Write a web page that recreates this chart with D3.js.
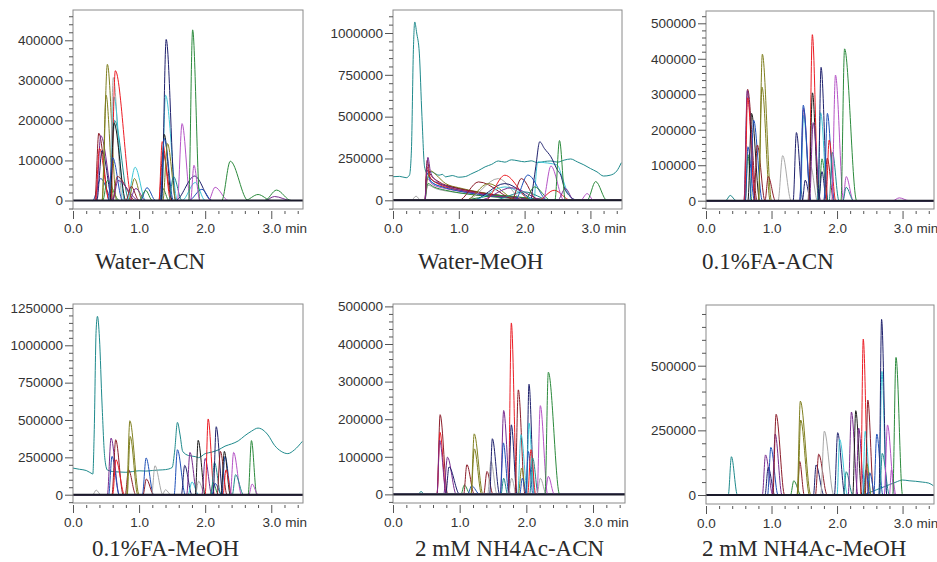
<!DOCTYPE html>
<html><head><meta charset="utf-8">
<script src="https://cdn.jsdelivr.net/npm/d3@7"></script>
<style>
html,body{margin:0;padding:0;background:#fff;}
svg{display:block;}
</style></head>
<body>
<svg id="chart" width="937" height="562"></svg>
<script>
// ---------------- DATA ----------------
const TITLES = ["Water-ACN","Water-MeOH","0.1%FA-ACN","0.1%FA-MeOH","2 mM NH4Ac-ACN","2 mM NH4Ac-MeOH"];
const X_MAJOR = [0,1,2,3];
const X_LABELS = ["0.0","1.0","2.0","3.0"];
const Y_MAJOR_1 = [0,100000,200000,300000,400000];
const Y_MAJOR_2 = [0,250000,500000,750000,1000000];
const Y_MAJOR_3 = [0,100000,200000,300000,400000,500000];
const Y_MAJOR_4 = [0,250000,500000,750000,1000000,1250000];
const Y_MAJOR_5 = [0,100000,200000,300000,400000,500000];
const Y_MAJOR_6 = [0,250000,500000];

const COLORS = {te:'#1f8a8c', gr:'#2b8a3c', rd:'#ec1c24', nv:'#1e206c', ol:'#7f7f1f', mr:'#8c1d2a',
  pu:'#772b8e', vi:'#b553c6', cy:'#3cc6d6', bl:'#1e50b8', gy:'#a8a8a8', bk:'#1c1c1c'};

// peaks: [colour, start, apex, end, height]
const PEAKS_1 = [
 ['bl',0.30,0.42,0.60,55000],['mr',0.33,0.39,0.55,168000],['pu',0.35,0.42,0.62,162000],
 ['rd',0.34,0.40,0.55,130000],['nv',0.36,0.44,0.60,125000],['gr',0.45,0.52,0.70,50000],
 ['ol',0.44,0.52,0.66,340000],['ol',0.44,0.50,0.62,263000],['gy',0.55,0.61,0.75,307000],
 ['te',0.56,0.63,0.85,200000],['cy',0.56,0.62,0.78,258000],['rd',0.57,0.64,0.90,324000],
 ['bk',0.56,0.62,0.80,194000],['bl',0.53,0.60,0.75,107000],['mr',0.60,0.67,0.95,60000],
 ['pu',0.60,0.68,1.00,50000],['cy',0.82,0.94,1.10,83000],['ol',0.84,0.93,1.05,55000],
 ['mr',0.80,0.88,1.00,35000],['pu',0.85,0.95,1.10,30000],['bl',1.02,1.12,1.25,32000],
 ['gr',1.00,1.10,1.20,25000],['gr',1.30,1.36,1.45,30000],['mr',1.30,1.36,1.50,120000],
 ['rd',1.30,1.35,1.48,147000],['cy',1.34,1.40,1.58,263000],['nv',1.34,1.41,1.55,402000],
 ['bk',1.33,1.38,1.50,165000],['bl',1.32,1.38,1.52,155000],['ol',1.36,1.43,1.56,142000],
 ['te',1.45,1.52,1.65,60000],['vi',1.58,1.65,1.78,192000],['nv',1.55,1.84,2.10,61000],
 ['cy',1.65,1.85,2.00,45000],['bl',1.75,1.95,2.10,28000],['gr',1.75,1.81,1.92,426000],
 ['vi',1.78,1.83,1.92,88000],['vi',2.05,2.15,2.35,33000],['gr',2.25,2.38,2.65,98000],
 ['gr',2.60,2.80,3.00,15000],['pu',2.90,3.05,3.30,10000],['gr',2.90,3.08,3.30,26000]
];
const CURVES_1 = [];

const PEAKS_2 = [
 ['gy',0.28,0.35,0.42,25000],['gr',1.00,1.60,2.40,30000],['mr',1.00,1.30,1.90,110000],
 ['gy',1.10,1.60,2.00,130000],['ol',1.10,1.45,1.90,100000],['nv',1.20,1.70,2.20,100000],
 ['cy',1.20,1.70,2.20,80000],['rd',1.40,1.70,2.10,150000],['pu',1.30,1.80,2.30,75000],
 ['te',1.50,2.00,2.40,50000],['mr',1.80,1.95,2.20,130000],['bl',1.85,2.05,2.35,151000],
 ['gr',2.00,2.15,2.40,80000],['rd',2.20,2.45,2.70,60000],['vi',2.28,2.40,2.60,205000],
 ['pu',2.50,2.62,2.75,70000],['gr',2.46,2.53,2.62,357000],['vi',2.85,2.95,3.05,40000],
 ['gr',2.95,3.08,3.25,112000]
];
const CURVES_2 = [
 ['te',[[0,141000],[0.1,143000],[0.2,135000],[0.25,150000],[0.28,300000],[0.31,900000],[0.33,1066000],
   [0.36,1000000],[0.40,880000],[0.44,500000],[0.48,200000],[0.52,160000],[0.56,172000],[0.6,168000],
   [0.7,150000],[0.75,155000],[0.8,140000],[0.9,148000],[1.0,138000],[1.1,142000],[1.2,160000],
   [1.3,178000],[1.4,200000],[1.5,215000],[1.6,235000],[1.7,228000],[1.8,242000],[1.9,236000],
   [2.0,230000],[2.1,236000],[2.2,225000],[2.3,232000],[2.4,235000],[2.5,228000],[2.6,240000],
   [2.7,247000],[2.8,230000],[2.9,212000],[3.0,190000],[3.1,170000],[3.2,145000],[3.3,150000],
   [3.4,175000],[3.47,225000]]],
 ['gy',[[0.49,0],[0.53,90000],[0.65,70000],[0.9,50000],[1.2,35000],[1.6,18000],[2.2,4000],[2.5,0]]],
 ['gr',[[0.49,0],[0.53,100000],[0.62,80000],[0.8,60000],[1.0,45000],[1.4,25000],[2.0,8000],[2.5,0]]],
 ['vi',[[0.49,0],[0.52,130000],[0.6,95000],[0.8,70000],[1.1,50000],[1.5,28000],[2.1,8000],[2.5,0]]],
 ['cy',[[0.49,0],[0.52,140000],[0.6,105000],[0.8,75000],[1.0,60000],[1.4,35000],[2.0,12000],[2.5,0]]],
 ['bl',[[0.49,0],[0.52,160000],[0.58,110000],[0.75,80000],[1.0,55000],[1.4,30000],[2.0,10000],[2.5,0]]],
 ['nv',[[0.49,0],[0.52,180000],[0.57,130000],[0.7,100000],[0.9,78000],[1.2,55000],[1.6,30000],[2.2,8000],[2.6,0]]],
 ['rd',[[0.49,0],[0.52,200000],[0.56,140000],[0.7,95000],[0.9,70000],[1.2,50000],[1.6,25000],[2.2,5000],[2.5,0]]],
 ['ol',[[0.49,0],[0.52,120000],[0.58,175000],[0.66,150000],[0.8,100000],[1.0,75000],[1.3,50000],[1.7,25000],[2.3,5000],[2.6,0]]],
 ['mr',[[0.49,0],[0.52,240000],[0.56,160000],[0.7,110000],[0.9,80000],[1.1,62000],[1.5,35000],[2.0,12000],[2.5,0]]],
 ['pu',[[0.49,0],[0.51,150000],[0.53,257000],[0.57,170000],[0.65,120000],[0.8,85000],[1.0,62000],[1.3,40000],[1.7,20000],[2.2,6000],[2.6,0]]],
 ['cy',[[2.15,0],[2.2,230000],[2.3,225000],[2.4,220000],[2.5,210000],[2.56,150000],[2.65,50000],[2.75,0]]],
 ['nv',[[2.1,0],[2.17,200000],[2.23,350000],[2.3,310000],[2.4,260000],[2.5,180000],[2.55,150000],[2.6,80000],[2.7,20000],[2.8,0]]]
];

const PEAKS_3 = [
 ['te',0.30,0.37,0.46,15000],['gr',0.60,0.64,0.70,130000],['mr',0.58,0.635,0.78,314000],
 ['pu',0.58,0.63,0.76,310000],['rd',0.59,0.635,0.75,290000],['bl',0.60,0.64,0.74,152000],
 ['bk',0.64,0.696,0.82,246000],['bl',0.67,0.727,0.86,227000],['mr',0.73,0.783,0.90,157000],
 ['ol',0.80,0.86,1.00,413000],['ol',0.80,0.855,0.98,320000],['mr',0.90,0.95,1.06,68000],
 ['gy',1.10,1.17,1.30,127000],['nv',1.33,1.38,1.48,192000],['cy',1.44,1.49,1.60,240000],
 ['pu',1.43,1.49,1.60,260000],['bl',1.43,1.485,1.60,269000],['nv',1.47,1.515,1.60,58000],
 ['gy',1.55,1.60,1.70,95000],['rd',1.57,1.623,1.72,468000],['bk',1.57,1.625,1.72,304000],
 ['pu',1.58,1.635,1.75,220000],['cy',1.70,1.75,1.86,248000],['nv',1.71,1.756,1.86,376000],
 ['gr',1.72,1.77,1.86,118000],['nv',1.72,1.77,1.84,82000],['mr',1.80,1.85,1.95,120000],
 ['bl',1.80,1.853,1.96,246000],['rd',1.83,1.88,1.98,171000],['te',1.88,1.93,2.03,136000],
 ['vi',1.92,1.976,2.10,354000],['gr',2.06,2.115,2.30,428000],['vi',2.09,2.14,2.25,68000],
 ['te',2.09,2.14,2.25,38000],['vi',2.85,2.95,3.10,8000]
];
const CURVES_3 = [];

const PEAKS_4 = [
 ['gy',0.30,0.35,0.42,31000],['pu',0.52,0.576,0.70,379000],['bl',0.54,0.59,0.70,257000],
 ['mr',0.59,0.646,0.76,368000],['rd',0.60,0.65,0.78,234000],['mr',0.79,0.84,0.95,167000],
 ['ol',0.81,0.86,1.00,495000],['ol',0.82,0.865,0.98,390000],['bl',1.05,1.106,1.22,246000],
 ['mr',1.06,1.11,1.22,105000],['gy',1.19,1.24,1.36,194000],['gy',1.35,1.40,1.48,33000],
 ['bl',1.53,1.58,1.70,301000],['nv',1.64,1.69,1.80,196000],['pu',1.72,1.77,1.88,283000],
 ['cy',1.74,1.80,1.90,85000],['gy',1.85,1.90,2.00,90000],['bk',1.85,1.894,2.00,364000],
 ['pu',1.95,2.00,2.10,243000],['rd',2.00,2.045,2.14,507000],['gr',2.08,2.12,2.20,80000],
 ['bl',2.10,2.15,2.25,75000],['te',2.09,2.14,2.24,216000],['nv',2.12,2.167,2.27,455000],
 ['mr',2.18,2.23,2.33,290000],['bl',2.25,2.30,2.40,257000],['bk',2.24,2.29,2.38,290000],
 ['rd',2.27,2.315,2.40,167000],['vi',2.38,2.43,2.55,283000],['te',2.41,2.46,2.58,134000],
 ['gr',2.65,2.70,2.78,362000],['vi',2.66,2.71,2.80,71000]
];
const CURVES_4 = [
 ['te',[[0,178000],[0.1,170000],[0.2,162000],[0.29,140000],[0.3,138000],[0.32,400000],[0.35,1100000],
   [0.37,1194000],[0.4,1050000],[0.44,600000],[0.48,250000],[0.52,165000],[0.6,155000],[0.7,152000],
   [0.8,150000],[0.9,155000],[1.0,160000],[1.1,158000],[1.2,162000],[1.3,165000],[1.4,168000],
   [1.5,182000],[1.54,300000],[1.58,484000],[1.62,400000],[1.66,290000],[1.75,262000],[1.85,255000],
   [1.9,248000],[2.0,275000],[2.1,285000],[2.2,300000],[2.3,325000],[2.4,340000],[2.5,360000],
   [2.6,395000],[2.7,425000],[2.8,446000],[2.85,440000],[2.95,400000],[3.05,330000],[3.15,290000],
   [3.25,275000],[3.35,300000],[3.47,357000]]]
];

const PEAKS_5 = [
 ['te',0.38,0.42,0.47,8000],['mr',0.66,0.707,0.82,212000],['rd',0.66,0.705,0.80,165000],
 ['pu',0.66,0.70,0.80,144000],['pu',0.76,0.817,0.95,99000],['nv',0.79,0.84,1.00,73000],
 ['gr',1.02,1.07,1.16,25000],['mr',1.06,1.108,1.22,79000],['bl',1.12,1.18,1.30,23000],
 ['ol',1.17,1.218,1.35,161000],['ol',1.17,1.22,1.33,121000],['mr',1.36,1.41,1.50,61000],
 ['gy',1.42,1.47,1.56,88000],['nv',1.45,1.49,1.60,148000],['pu',1.61,1.66,1.76,223000],
 ['bl',1.61,1.655,1.74,137000],['te',1.62,1.66,1.72,43000],['rd',1.73,1.775,1.86,456000],
 ['nv',1.73,1.775,1.86,185000],['gy',1.73,1.78,1.85,43000],['mr',1.83,1.88,1.98,278000],
 ['cy',1.87,1.92,2.02,159000],['ol',1.88,1.93,2.00,70000],['bl',1.90,1.94,2.00,43000],
 ['nv',2.00,2.04,2.12,293000],['cy',2.00,2.04,2.12,190000],['bl',1.99,2.03,2.10,114000],
 ['rd',2.02,2.07,2.14,119000],['te',2.05,2.095,2.18,97000],['vi',2.16,2.21,2.32,236000],
 ['gy',2.16,2.21,2.30,43000],['vi',2.28,2.33,2.42,48000],['gr',2.28,2.33,2.50,325000]
];
const CURVES_5 = [];

const PEAKS_6 = [
 ['te',0.34,0.388,0.48,148000],['pu',0.86,0.908,1.02,155000],['nv',0.90,0.95,1.05,107000],
 ['bl',0.94,0.99,1.10,184000],['pu',1.01,1.056,1.16,236000],['mr',1.02,1.07,1.20,312000],
 ['gr',1.29,1.34,1.45,55000],['mr',1.39,1.43,1.50,130000],['ol',1.39,1.44,1.60,363000],
 ['ol',1.40,1.445,1.58,290000],['nv',1.64,1.68,1.80,116000],['mr',1.67,1.72,1.85,158000],
 ['gy',1.75,1.806,1.95,247000],['nv',1.96,2.01,2.12,241000],['cy',2.00,2.04,2.16,215000],
 ['te',2.10,2.14,2.24,90000],['pu',2.17,2.22,2.32,321000],['bk',2.24,2.286,2.38,326000],
 ['pu',2.29,2.33,2.42,259000],['rd',2.36,2.40,2.48,603000],['cy',2.39,2.43,2.52,246000],
 ['bl',2.40,2.44,2.50,97000],['ol',2.41,2.455,2.52,122000],['mr',2.43,2.47,2.56,367000],
 ['bl',2.46,2.50,2.58,86000],['bl',2.56,2.607,2.70,236000],['te',2.65,2.69,2.80,161000],
 ['cy',2.64,2.685,2.76,478000],['nv',2.64,2.68,2.76,679000],['vi',2.72,2.77,2.88,271000],
 ['vi',2.80,2.83,2.90,97000],['gr',2.85,2.90,3.00,532000]
];
const CURVES_6 = [
 ['te',[[2.4,0],[2.6,20000],[2.8,40000],[2.9,50000],[3.0,58000],[3.1,55000],[3.2,53000],[3.3,50000],[3.4,46000],[3.47,36000]]]
];

// ---------------- LAYOUT ----------------
const XMAX = 3.48;
const panels = [
 {L:73, R:303, T:10, B:209, yDom:[-21200,475600], major:Y_MAJOR_1, minor:20000, peaks:PEAKS_1, curves:CURVES_1, tx:95, ty:269},
 {L:393,R:622, T:10, B:209, yDom:[-52000,1137500], major:Y_MAJOR_2, minor:50000, peaks:PEAKS_2, curves:CURVES_2, tx:418, ty:269},
 {L:706,R:934, T:11, B:209, yDom:[-23400,534700], major:Y_MAJOR_3, minor:20000, peaks:PEAKS_3, curves:CURVES_3, tx:702, ty:269},
 {L:73, R:303, T:304,B:503, yDom:[-55600,1276500], major:Y_MAJOR_4, minor:50000, peaks:PEAKS_4, curves:CURVES_4, tx:92, ty:556},
 {L:393,R:625, T:304,B:503, yDom:[-22900,506400], major:Y_MAJOR_5, minor:20000, peaks:PEAKS_5, curves:CURVES_5, tx:415, ty:556},
 {L:706,R:934, T:305,B:504, yDom:[-34800,734700], major:Y_MAJOR_6, minor:50000, peaks:PEAKS_6, curves:CURVES_6, tx:702, ty:556}
];

const svg = d3.select('#chart');
const fmt = d3.format('d');

panels.forEach((p, i) => {
  const x = d3.scaleLinear().domain([0, XMAX]).range([p.L, p.R]);
  const y = d3.scaleLinear().domain(p.yDom).range([p.B, p.T]);
  const g = svg.append('g');

  const clipId = 'clip' + i;
  svg.append('defs').append('clipPath').attr('id', clipId)
    .append('rect').attr('x', p.L).attr('y', p.T).attr('width', p.R - p.L).attr('height', p.B - p.T);

  const line = d3.line().x(d => x(d[0])).y(d => y(d[1])).curve(d3.curveMonotoneX);
  const traces = g.append('g').attr('clip-path', `url(#${clipId})`);

  p.curves.forEach(c => {
    traces.append('path').attr('d', line(c[1])).attr('fill', 'none')
      .attr('stroke', COLORS[c[0]]).attr('stroke-width', 1);
  });
  p.peaks.forEach(pk => {
    const pts = [[0,0],[pk[1],0],[pk[2],pk[4]],[pk[3],0],[XMAX,0]];
    traces.append('path').attr('d', line(pts)).attr('fill', 'none')
      .attr('stroke', COLORS[pk[0]]).attr('stroke-width', 1);
  });
  g.append('line').attr('x1', p.L).attr('x2', p.R).attr('y1', y(0)).attr('y2', y(0))
    .attr('stroke', '#1a1a2a').attr('stroke-width', 2);

  g.append('rect').attr('x', p.L).attr('y', p.T).attr('width', p.R - p.L).attr('height', p.B - p.T)
    .attr('fill', 'none').attr('stroke', '#8a8a8a').attr('stroke-width', 1);

  const minorY = d3.range(Math.ceil(p.yDom[0] / p.minor) * p.minor, p.yDom[1], p.minor)
    .filter(v => !p.major.includes(v));
  const yMinorAxis = d3.axisLeft(y).tickValues(minorY).tickSize(4).tickFormat('');
  const yMajorAxis = d3.axisLeft(y).tickValues(p.major).tickSize(8).tickPadding(2).tickFormat(fmt);
  [yMinorAxis, yMajorAxis].forEach(ax => {
    const a = g.append('g').attr('transform', `translate(${p.L},0)`).call(ax);
    a.select('.domain').remove();
    a.selectAll('line').attr('stroke', '#555');
    a.selectAll('text').attr('fill', '#333').style('font-family', 'Liberation Sans, Arial, sans-serif')
      .style('font-size', '13.5px');
  });

  const minorX = d3.range(0.2, XMAX, 0.2).filter(v => Math.abs(v - Math.round(v)) > 0.05);
  const xMinorAxis = d3.axisBottom(x).tickValues(minorX).tickSize(3).tickFormat('');
  const xMajorAxis = d3.axisBottom(x).tickValues(X_MAJOR).tickSize(8).tickPadding(4)
    .tickFormat((d, k) => X_LABELS[k]);
  [xMinorAxis, xMajorAxis].forEach(ax => {
    const a = g.append('g').attr('transform', `translate(0,${p.B + 2})`).call(ax);
    a.select('.domain').remove();
    a.selectAll('line').attr('stroke', '#555');
    a.selectAll('text').attr('fill', '#333').style('font-family', 'Liberation Sans, Arial, sans-serif')
      .style('font-size', '13.5px');
  });
  g.append('text').attr('x', x(3) + 14).attr('y', p.B + 24)
    .attr('fill', '#333').style('font-family', 'Liberation Sans, Arial, sans-serif')
    .style('font-size', '13.5px').text('min');

  g.append('text').attr('x', p.tx).attr('y', p.ty).attr('fill', '#2a2a2a')
    .style('font-family', 'Liberation Serif, Times New Roman, serif').style('font-size', '23px')
    .text(TITLES[i]);
});
</script>
</body></html>
